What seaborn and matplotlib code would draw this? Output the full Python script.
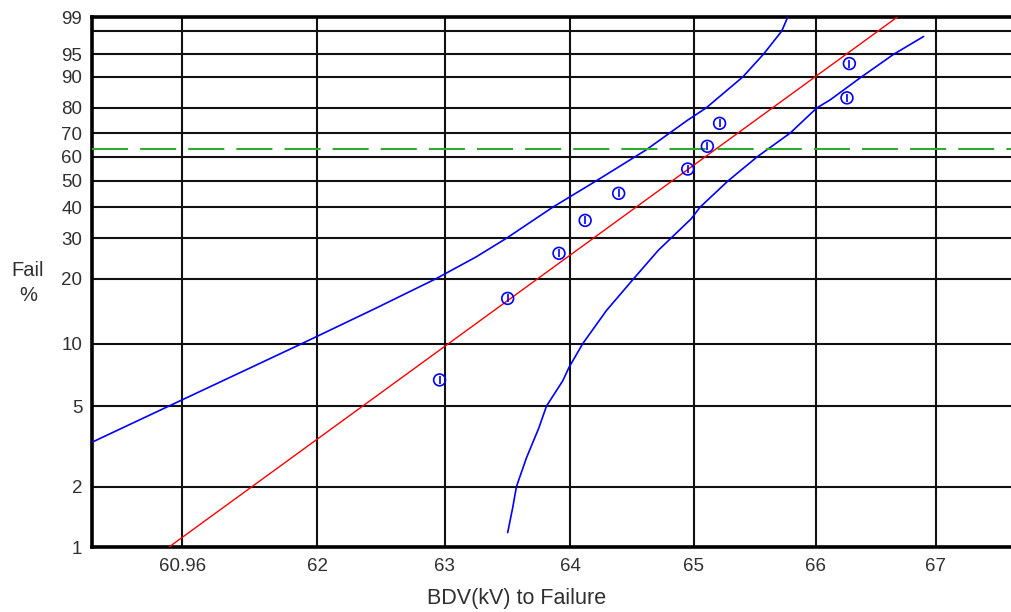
import numpy as np
import matplotlib
matplotlib.use("Agg")
import matplotlib.pyplot as plt
import seaborn as sns

# Breakdown voltage of each sample (kV) and its failure rank (%)
bdv_kv = [62.96, 63.50, 63.91, 64.12, 64.39, 64.95, 65.11, 65.21, 66.26, 66.28]
fail_pct = [6.7, 16.3, 25.9, 35.5, 45.1, 54.8, 64.4, 74.0, 83.6, 93.2]

# Fitted Weibull line (straight on Weibull paper, given by its two ends)
fit_kv = [60.86, 66.68]
fit_pct = [1.0, 99.0]

# Upper confidence bound
upper_kv = [60.28, 60.86, 61.88, 62.46, 62.93, 63.25, 63.49, 63.86, 64.21,
            64.61, 64.95, 65.10, 65.40, 65.57, 65.72, 65.77]
upper_pct = [3.33, 5.0, 10.0, 14.7, 20.0, 25.0, 30.0, 40.0, 50.0,
             62.8, 75.3, 80.0, 90.0, 95.0, 98.0, 99.0]

# Lower confidence bound
lower_kv = [63.50, 63.54, 63.57, 63.65, 63.75, 63.81, 63.94, 63.99, 64.10,
            64.29, 64.51, 64.71, 64.98, 65.05, 65.28, 65.52, 65.79, 66.01,
            66.12, 66.38, 66.65, 66.90]
lower_pct = [1.18, 1.57, 2.0, 2.78, 3.92, 5.0, 6.63, 7.70, 10.0,
             14.3, 20.0, 26.65, 36.1, 40.0, 50.0, 60.0, 70.0, 80.0,
             82.9, 90.0, 95.0, 97.47]

# Characteristic life level
char_life_pct = 63.2

x_ticks = [60.96, 62, 63, 64, 65, 66, 67]
x_tick_labels = ["60.96", "62", "63", "64", "65", "66", "67"]
y_ticks = [1, 2, 5, 10, 20, 30, 40, 50, 60, 70, 80, 90, 95, 98, 99]
y_tick_labels = ["1", "2", "5", "10", "20", "30", "40", "50", "60", "70",
                 "80", "90", "95", "", "99"]


def weibull_fwd(p):
    p = np.clip(np.asarray(p, dtype=float), 1e-6, 100 - 1e-6)
    return np.log(-np.log(1.0 - p / 100.0))


def weibull_inv(y):
    return 100.0 * (1.0 - np.exp(-np.exp(np.asarray(y, dtype=float))))


sns.set_style("white")
plt.rcParams["font.family"] = ["Liberation Sans", "DejaVu Sans"]

fig = plt.figure(figsize=(10.11, 6.12), dpi=100)
ax = fig.add_axes([92 / 1011, 65 / 612, 919 / 1011, 530 / 612])

blue = "#0000ff"
sns.lineplot(x=upper_kv, y=upper_pct, ax=ax, color=blue, linewidth=1.2,
             sort=False, estimator=None, zorder=3)
sns.lineplot(x=lower_kv, y=lower_pct, ax=ax, color=blue, linewidth=1.2,
             sort=False, estimator=None, zorder=3)
sns.lineplot(x=fit_kv, y=fit_pct, ax=ax, color="#ff0000", linewidth=1.0,
             sort=False, estimator=None, zorder=3)
sns.scatterplot(x=bdv_kv, y=fail_pct, ax=ax, marker="o", s=72,
                facecolor="none", edgecolor=blue, linewidth=1.2, zorder=4)
ax.plot(bdv_kv, fail_pct, linestyle="none", marker="|", markersize=5.5,
        markeredgewidth=1.2, color=blue, zorder=4)

ax.axhline(char_life_pct, color="#2eaa2e", linewidth=1.5,
           dashes=(17.3, 5.8), zorder=3)

ax.set_xscale("log")
ax.set_yscale("function", functions=(weibull_fwd, weibull_inv))
ax.set_xlim(60.275, 67.637)
ax.set_ylim(1, 99)

ax.set_xticks(x_ticks, x_tick_labels)
ax.xaxis.set_minor_locator(matplotlib.ticker.NullLocator())
ax.set_yticks(y_ticks, y_tick_labels)
ax.yaxis.set_minor_locator(matplotlib.ticker.NullLocator())

text_color = "#303030"
ax.tick_params(axis="both", length=0, labelsize=13.5, colors=text_color)
ax.tick_params(axis="x", pad=8)
ax.tick_params(axis="y", pad=7)

ax.grid(True, color="#111111", linewidth=1.5)
ax.set_axisbelow(True)

for side in ("left", "bottom", "top"):
    ax.spines[side].set_visible(True)
    ax.spines[side].set_color("black")
    ax.spines[side].set_linewidth(2.6)
ax.spines["right"].set_visible(False)

ax.set_xlabel("BDV(kV) to Failure", fontsize=15.5, color=text_color, va="center")
ax.xaxis.set_label_coords(0.4625, -0.097)
ax.set_ylabel("Fail\n%", fontsize=14.5, color=text_color, rotation=0,
              ha="center", va="center", linespacing=1.4)
ax.yaxis.set_label_coords(-0.0696, 0.498)

fig.savefig("out.png", dpi=100)
